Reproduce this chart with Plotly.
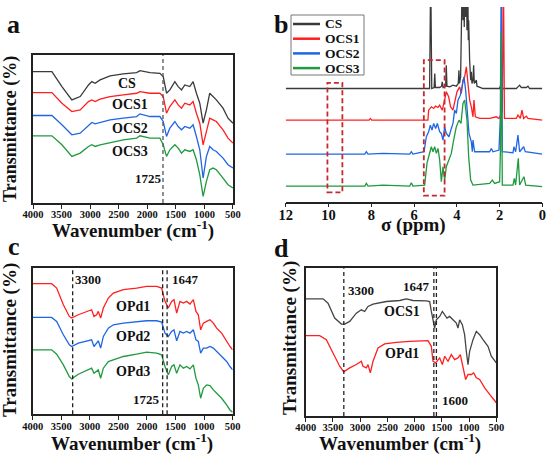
import plotly.graph_objects as go

# ---------------- Panel a : FTIR of CS / OCS1-3 ----------------
wn_a = [4000, 3669, 3494, 3320, 3174, 3029, 2971, 2913, 2826, 2651, 2419, 2186, 2128, 1953,
        1779, 1721, 1663, 1605, 1517, 1459, 1401, 1343, 1256, 1198, 1140, 1081, 1023, 965,
        907, 849, 791, 674, 587, 500]
cs_a = [395, 395, 350, 310, 320, 355, 365, 360, 370, 382, 388, 392, 398, 392, 390, 380, 330, 340,
        365, 350, 340, 355, 350, 365, 330, 300, 240, 280, 330, 320, 310, 285, 255, 240]
ocs1_a = [332, 332, 300, 275, 280, 305, 310, 305, 312, 320, 325, 330, 335, 330, 330, 320, 270, 290,
          310, 295, 285, 300, 295, 305, 270, 240, 175, 220, 255, 250, 245, 220, 195, 180]
ocs2_a = [263, 263, 235, 205, 210, 235, 242, 238, 242, 250, 255, 260, 268, 260, 260, 245, 200, 225,
          245, 230, 220, 230, 225, 235, 200, 160, 75, 140, 170, 160, 155, 135, 115, 105]
ocs3_a = [202, 202, 175, 140, 150, 170, 175, 170, 175, 182, 190, 195, 202, 195, 195, 175, 140, 160,
          175, 165, 150, 160, 155, 160, 130, 85, 20, 65, 100, 105, 100, 75, 55, 45]

# ---------------- Panel b : 1H NMR ----------------
ppm_cs = [12.0, 5.42, 5.27, 5.22, 5.17, 5.06, 5.03, 5.00, 4.80, 4.71, 4.68, 4.64, 4.52, 4.49, 4.46,
          4.33, 4.18, 4.02, 3.93, 3.90, 3.87, 3.82, 3.77, 3.74, 3.71, 3.68, 3.65, 3.62, 3.585, 3.554,
          3.522, 3.491, 3.46, 3.444, 3.398, 3.351, 3.32, 3.289, 3.242, 3.211, 3.18, 3.117, 3.086,
          3.055, 2.93, 2.77, 2.0, 1.92, 1.87, 1.216, 1.139, 1.06, 0.982, 0.904, 0.748, 0.67, 0.593, 0.0]
int_cs = [340, 340, 340, 700, 340, 343, 385, 343, 343, 347, 360, 343, 347, 410, 347,
          345, 350, 347, 355, 395, 355, 375, 505, 700, 545, 700, 525, 700, 555, 700,
          515, 700, 485, 545, 425, 365, 390, 355, 365, 410, 355, 360, 365,
          347, 343, 340, 340, 355, 340, 340, 345, 350, 343, 343, 343, 347, 340, 340]

ppm_ocs1 = [12.0, 8.10, 8.04, 7.98, 5.35, 5.315, 5.19, 5.08, 4.99, 4.88, 4.80, 4.68, 4.57, 4.49, 4.38,
            4.29, 4.18, 4.05, 3.99, 3.865, 3.787, 3.71, 3.632, 3.554, 3.476, 3.398, 3.32, 3.242, 3.195,
            3.133, 2.93, 2.46, 2.15, 2.03, 1.87, 1.82, 1.77, 1.216, 1.139, 1.029, 0.951, 0.873,
            0.748, 0.67, 0.0]
int_ocs1 = [245, 245, 250, 245, 245, 275, 285, 280, 287, 283, 290, 275, 305, 330, 315,
            285, 275, 315, 330, 345, 325, 365, 375, 405, 345, 305, 285, 255, 305,
            255, 250, 250, 255, 250, 270, 700, 250, 250, 260, 250, 275, 250,
            257, 250, 245]

ppm_ocs2 = [12.0, 8.30, 8.23, 8.15, 7.45, 6.20, 6.125, 6.05, 5.53, 5.424, 5.315, 5.237, 5.159, 5.081,
            4.987, 4.909, 4.80, 4.722, 4.644, 4.567, 4.489, 4.364, 4.255, 4.177, 4.099, 4.021, 3.943,
            3.834, 3.756, 3.663, 3.585, 3.507, 3.429, 3.32, 3.273, 3.242, 3.164, 2.463, 2.385, 2.307,
            2.026, 1.964, 1.92, 1.87, 1.372, 1.325, 1.247, 1.139, 1.06, 0.873, 0.795, 0.0]
int_ocs2 = [143, 143, 150, 143, 145, 143, 150, 143, 150, 195, 210, 230, 215, 235,
            220, 235, 210, 205, 185, 225, 205, 195, 220, 235, 275, 265, 305,
            320, 345, 375, 335, 265, 205, 180, 150, 185, 150, 150, 160, 150,
            155, 250, 700, 150, 147, 165, 150, 200, 150, 165, 150, 143]

ppm_ocs3 = [12.0, 8.30, 8.23, 8.15, 7.45, 6.20, 6.125, 6.05, 5.502, 5.393, 5.315, 5.19, 5.112, 5.034,
            4.956, 4.878, 4.80, 4.722, 4.644, 4.567, 4.489, 4.38, 4.255, 4.146, 4.021, 3.897, 3.803,
            3.71, 3.632, 3.522, 3.444, 3.351, 3.289, 3.242, 2.463, 2.338, 2.229, 1.995, 1.96, 1.92,
            1.87, 1.372, 1.309, 1.247, 1.123, 1.06, 0.857, 0.779, 0.0]
int_ocs3 = [47, 47, 55, 47, 50, 47, 57, 47, 50, 115, 135, 165, 150, 165,
            145, 160, 125, 60, 105, 65, 105, 125, 145, 185, 225, 245, 235,
            295, 305, 245, 135, 65, 57, 50, 55, 65, 55, 60, 150, 506,
            50, 50, 70, 50, 130, 50, 75, 50, 45]
nmr_names = ["CS", "OCS1", "OCS2", "OCS3"]

# ---------------- Panel c : FTIR OPd1-3 ----------------
wn_c = [4000, 3668, 3580, 3463, 3358, 3318, 3201, 3026, 2968, 2927, 2880, 2851, 2810, 2763, 2676,
        2588, 2413, 2180, 2005, 1830, 1743, 1684, 1626, 1568, 1527, 1480, 1422, 1363, 1305, 1247,
        1188, 1142, 1101, 1060, 1013, 955, 897, 838, 780, 693, 605, 547, 500]
opd1_c = [391, 391, 378, 328, 293, 288, 298, 308, 313, 293, 298, 308, 288, 318, 348, 363, 373, 378,
          383, 383, 378, 338, 318, 338, 343, 303, 338, 333, 338, 330, 343, 308, 298, 253, 273, 278,
          283, 273, 258, 243, 218, 203, 193]
opd2_c = [290, 290, 278, 238, 208, 203, 213, 220, 223, 203, 213, 220, 198, 233, 258, 268, 273, 276,
          280, 280, 276, 243, 233, 248, 253, 220, 248, 243, 248, 243, 253, 223, 218, 183, 198, 198,
          203, 198, 188, 173, 158, 143, 133]
opd3_c = [193, 193, 180, 148, 113, 106, 120, 133, 138, 123, 128, 133, 108, 138, 158, 163, 173, 180,
          186, 183, 178, 143, 118, 143, 148, 123, 148, 138, 143, 136, 148, 108, 88, 48, 78, 88,
          86, 73, 63, 48, 28, 13, 6]

# ---------------- Panel d : OCS1 vs OPd1 ----------------
wn_d1 = [4000, 3682, 3590, 3468, 3345, 3284, 3192, 3070, 2978, 2917, 2856, 2764, 2519, 2274, 2152,
         2030, 1785, 1724, 1693, 1663, 1632, 1601, 1540, 1491, 1448, 1406, 1357, 1295, 1234, 1204,
         1173, 1124, 1082, 1051, 1020, 990, 928, 867, 806, 745, 653, 592, 531, 500]
ocs1_d = [353, 353, 340, 295, 277, 277, 285, 310, 320, 315, 330, 337, 345, 348, 353, 348, 347, 345,
          315, 290, 265, 290, 300, 315, 305, 295, 300, 290, 280, 265, 290, 275, 245, 195, 155, 195,
          230, 255, 245, 230, 210, 180, 165, 160]
wn_d2 = [4000, 3743, 3621, 3498, 3376, 3302, 3192, 3070, 2978, 2948, 2886, 2856, 2813, 2764, 2672,
         2550, 2336, 2091, 1907, 1754, 1693, 1663, 1614, 1571, 1540, 1491, 1448, 1387, 1326, 1265,
         1204, 1161, 1112, 1063, 1020, 959, 916, 867, 806, 714, 622, 531, 500]
opd1_d = [242, 242, 230, 190, 150, 133, 145, 155, 165, 150, 145, 155, 130, 165, 205, 217, 222, 225,
          227, 227, 210, 165, 160, 170, 175, 155, 180, 165, 185, 170, 175, 185, 145, 110, 125, 125,
          130, 115, 110, 85, 65, 45, 40]

wn_ticks = [4000, 3500, 3000, 2500, 2000, 1500, 1000, 500]
ppm_ticks = [12, 10, 8, 6, 4, 2, 0]

BLACK = "#3a3a3a"
RED = "#ff1f1f"
BLUE = "#1f66e5"
GREEN = "#1f9a3f"
SERIF = "Liberation Serif, Times New Roman, serif"
W, H = 550, 463

fig = go.Figure()


def add(x, y, color, n):
    fig.add_trace(go.Scatter(
        x=x, y=y, mode="lines", showlegend=False,
        line=dict(color=color, width=1.3),
        xaxis="x" if n == 1 else f"x{n}", yaxis="y" if n == 1 else f"y{n}",
        hoverinfo="skip"))


add(wn_a, cs_a, BLACK, 1)
add(wn_a, ocs1_a, RED, 1)
add(wn_a, ocs2_a, BLUE, 1)
add(wn_a, ocs3_a, GREEN, 1)

nmr_colors = [BLACK, RED, BLUE, GREEN]
for xs, ys, c in zip([ppm_cs, ppm_ocs1, ppm_ocs2, ppm_ocs3],
                     [int_cs, int_ocs1, int_ocs2, int_ocs3], nmr_colors):
    add(xs, ys, c, 2)

add(wn_c, opd1_c, RED, 3)
add(wn_c, opd2_c, BLUE, 3)
add(wn_c, opd3_c, GREEN, 3)

add(wn_d1, ocs1_d, "#444444", 4)
add(wn_d2, opd1_d, RED, 4)

tickfont = dict(family=SERIF, size=10.5, color="#111", weight="bold")


def wn_axis(domain, anchor):
    return dict(domain=domain, anchor=anchor, range=[4000, 500], tickvals=wn_ticks,
                ticks="outside", ticklen=4, tickwidth=1.3, tickcolor="#222",
                showline=True, linecolor="#222", linewidth=1.5, mirror=True,
                showgrid=False, zeroline=False, tickfont=tickfont, ticklabelstandoff=-3)


def y_axis(domain, anchor, rng):
    return dict(domain=domain, anchor=anchor, range=rng, showticklabels=False, ticks="",
                showline=True, linecolor="#222", linewidth=1.5, mirror=True,
                showgrid=False, zeroline=False)


layout = dict(
    width=W, height=H, margin=dict(l=0, r=0, t=0, b=0, autoexpand=False),
    paper_bgcolor="white", plot_bgcolor="white", showlegend=False,
    font=dict(family=SERIF, color="#111"),
    xaxis=wn_axis([0.060, 0.4236], "y"),
    yaxis=y_axis([0.5616, 0.8812], "x", [0, 445]),
    xaxis2=dict(domain=[0.5195, 0.986], anchor="y2", range=[12, 0], tickvals=ppm_ticks,
                ticks="outside", ticklen=4, tickwidth=1.3, tickcolor="#222",
                showline=True, linecolor="#222", linewidth=1.5, mirror=False,
                showgrid=False, zeroline=False, ticklabelstandoff=-5,
                tickfont=dict(family=SERIF, size=14.5, color="#111", weight="bold")),
    yaxis2=dict(domain=[0.5644, 0.985], anchor="x2", range=[0, 585], visible=False),
    xaxis3=wn_axis([0.0594, 0.4230], "y3"),
    yaxis3=y_axis([0.1052, 0.4212], "x3", [0, 438]),
    xaxis4=wn_axis([0.5558, 0.9024], "y4"),
    yaxis4=y_axis([0.1015, 0.4205], "x4", [0, 445]),
)
fig.update_layout(**layout)


def vline(x, xref, yref, color="#222"):
    fig.add_shape(type="line", x0=x, x1=x, y0=0, y1=1, xref=xref, yref=yref + " domain",
                  line=dict(color=color, width=1.3, dash="4px,3px"))


vline(1725, "x", "y", "#555555")
for v in [3300, 1725, 1647]:
    vline(v, "x3", "y3")
for v in [3300, 1647, 1600]:
    vline(v, "x4", "y4")

for x0, x1, y0, y1 in [(10.05, 9.35, 28, 357), (5.54, 4.57, 18, 425)]:
    fig.add_shape(type="rect", x0=x0, x1=x1, y0=y0, y1=y1, xref="x2", yref="y2",
                  line=dict(color="#c8282d", width=1.8, dash="5px,3px"))


def txt(x, y, s, xref, yref, size=14, angle=0, xanchor="center"):
    fig.add_annotation(x=x, y=y, text=f"<b>{s}</b>", xref=xref, yref=yref, showarrow=False,
                       xanchor=xanchor, yanchor="middle", textangle=angle,
                       font=dict(family=SERIF, size=size, color="#111"))


def px(x):
    return x / W


def py(y):
    return 1 - y / H


# legend of panel b
fig.add_shape(type="rect", x0=px(291), x1=px(364), y0=py(15), y1=py(75), xref="paper",
              yref="paper", line=dict(color="#777", width=1))
for i, (name, c) in enumerate(zip(nmr_names, nmr_colors)):
    yy = 24 + i * 14.7
    fig.add_shape(type="line", x0=px(293), x1=px(320), y0=py(yy), y1=py(yy), xref="paper",
                  yref="paper", line=dict(color=c, width=2.5))
    txt(px(323), py(yy), name, "paper", "paper", 13.5, xanchor="left")

txt(2360, 360, "CS", "x", "y")
txt(2300, 295, "OCS1", "x", "y")
txt(2300, 223, "OCS2", "x", "y")
txt(2300, 155, "OCS3", "x", "y")
txt(1980, 75, "1725", "x", "y", 13)

txt(3026, 403, "3300", "x3", "y3", 13)
txt(1334, 403, "1647", "x3", "y3", 13)
txt(2238, 323, "OPd1", "x3", "y3")
txt(2238, 233, "OPd2", "x3", "y3")
txt(2238, 128, "OPd3", "x3", "y3")
txt(2005, 43, "1725", "x3", "y3", 13)

txt(2978, 377, "3300", "x4", "y4", 13)
txt(1969, 390, "1647", "x4", "y4", 13)
txt(2226, 315, "OCS1", "x4", "y4")
txt(2226, 187, "OPd1", "x4", "y4")
txt(1265, 47, "1600", "x4", "y4", 13)

txt(px(13), py(25), "a", "paper", "paper", 26)
txt(px(281), py(25), "b", "paper", "paper", 26)
txt(px(14), py(246), "c", "paper", "paper", 26)
txt(px(281), py(248), "d", "paper", "paper", 26)

WN = "Wavenumber (cm<sup>-1</sup>)"
txt(px(10), py(129), "Transmittance (%)", "paper", "paper", 18, -90)
txt(px(10), py(340), "Transmittance (%)", "paper", "paper", 19, -90)
txt(px(290), py(338), "Transmittance (%)", "paper", "paper", 19, -90)
txt(px(133), py(229), WN, "paper", "paper", 19)
txt(px(132), py(442), WN, "paper", "paper", 19)
txt(px(400), py(442), WN, "paper", "paper", 19)
txt(px(413), py(225), "σ (ppm)", "paper", "paper", 19)

fig.write_html("out.html", config={"displayModeBar": False},
               post_script="document.body.style.margin='0px';document.body.style.padding='0px';")
